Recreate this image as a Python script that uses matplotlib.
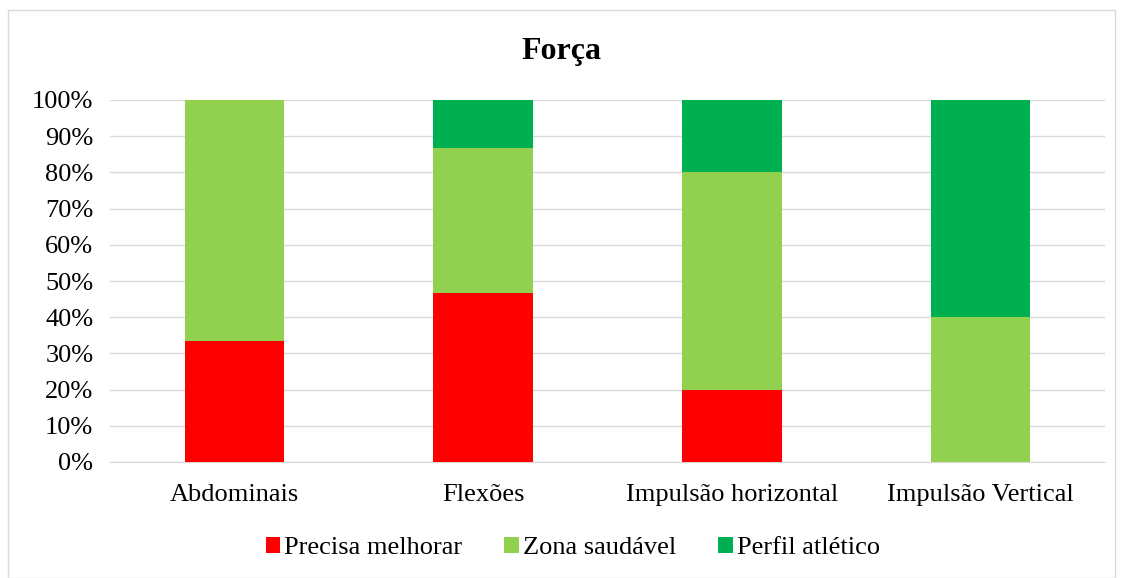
import matplotlib
matplotlib.use("Agg")
import matplotlib.pyplot as plt
from matplotlib.patches import Rectangle
from matplotlib.ticker import PercentFormatter

categories = ["Abdominais", "Flexões", "Impulsão horizontal", "Impulsão Vertical"]
series_names = ["Precisa melhorar", "Zona saudável", "Perfil atlético"]
precisa = [33.3, 46.7, 20.0, 0.0]
zona = [66.7, 40.0, 60.0, 40.0]
perfil = [0.0, 13.3, 20.0, 60.0]
colors = ["#FF0000", "#92D050", "#00B050"]

plt.rcParams['font.family'] = ['Liberation Serif', 'DejaVu Serif']

fig = plt.figure(figsize=(11.23, 5.78), dpi=100)
fig.patches.append(Rectangle((8/1123, 0), (1115-8)/1123, 1-10/578, transform=fig.transFigure,
                             fill=False, edgecolor="#D9D9D9", linewidth=1.0))
ax = fig.add_axes([110/1123, 1-462/578, (1105-110)/1123, (462-100)/578])

x = list(range(len(categories)))
bottom = [0]*len(categories)
for vals, name, c in zip([precisa, zona, perfil], series_names, colors):
    ax.bar(x, vals, width=0.4, bottom=bottom, color=c, label=name, zorder=3)
    bottom = [b+v for b, v in zip(bottom, vals)]

ax.set_xlim(-0.5, len(categories)-0.5)
ax.set_ylim(0, 100)
ax.set_yticks(range(0, 101, 10))
ax.yaxis.set_major_formatter(PercentFormatter(decimals=0))
ax.set_xticks(x)
ax.set_xticklabels(categories, fontsize=19)
ax.tick_params(axis='y', labelsize=19, length=0, pad=12)
ax.tick_params(axis='x', length=0, pad=16)
ax.grid(axis='y', color="#D9D9D9", linewidth=1.0, zorder=0)
for s in ["top", "right", "left"]:
    ax.spines[s].set_visible(False)
ax.spines["bottom"].set_color("#D9D9D9")

fig.text(0.5, 1-52/578, "Força", ha="center", va="center", fontsize=23, fontweight="bold")

fig.legend(loc="center", bbox_to_anchor=(0.510, 1-548/578), ncol=3, frameon=False,
           fontsize=19, handlelength=0.55, handleheight=0.55, handletextpad=0.15, columnspacing=1.6)

fig.savefig("out.png", dpi=100)
